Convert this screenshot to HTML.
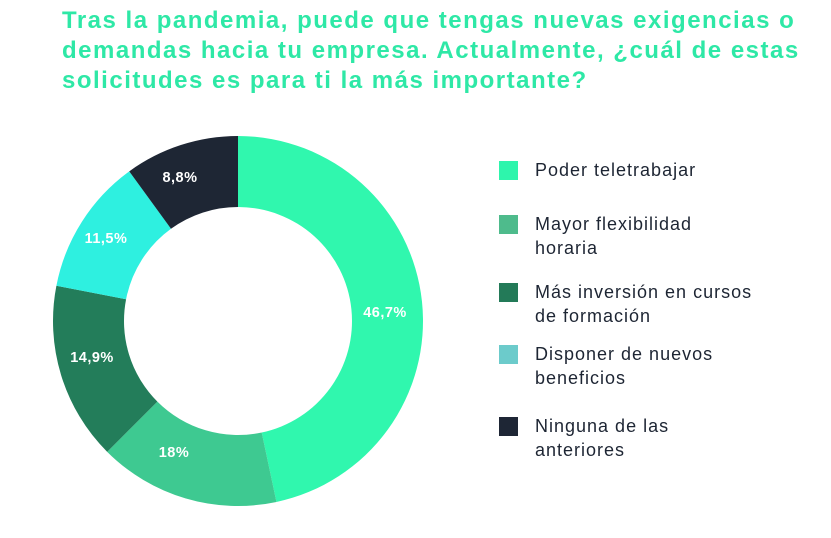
<!DOCTYPE html>
<html><head><meta charset="utf-8"><style>
body{margin:0;width:831px;height:538px;background:#fff;overflow:hidden;font-family:"Liberation Sans",sans-serif;position:relative}
.t{position:absolute;left:62px;top:6px;color:#2ee8a6;font-weight:bold;font-size:24px;line-height:30px;letter-spacing:1.5px}
.lg{position:absolute;left:499px;font-size:18px;line-height:24px;color:#1d2533;letter-spacing:1px}
.lg i{position:absolute;left:0;top:3px;width:19px;height:19px}
.lg span{position:absolute;left:36px;top:0;white-space:nowrap}
</style></head><body>
<div class="t">Tras la pandemia, puede que tengas nuevas exigencias o<br>demandas hacia tu empresa. Actualmente, ¿cuál de estas<br>solicitudes es para ti la más importante?</div>
<svg id="s" width="831" height="538" style="position:absolute;left:0;top:0">
<g id="g"></g>
<g fill="#fff" font-size="14.5" font-weight="bold" text-anchor="middle" letter-spacing="0.5">
<text x="385" y="317">46,7%</text>
<text x="174" y="457">18%</text>
<text x="92" y="362">14,9%</text>
<text x="106" y="243">11,5%</text>
<text x="180" y="182">8,8%</text>
</g></svg>
<div class="lg" style="top:158px"><i style="background:#2ef5ac"></i><span>Poder teletrabajar</span></div>
<div class="lg" style="top:212px"><i style="background:#4ebb8c"></i><span>Mayor flexibilidad<br>horaria</span></div>
<div class="lg" style="top:280px"><i style="background:#237a58"></i><span>Más inversión en cursos<br>de formación</span></div>
<div class="lg" style="top:342px"><i style="background:#6ccbcb"></i><span>Disponer de nuevos<br>beneficios</span></div>
<div class="lg" style="top:414px"><i style="background:#1e2635"></i><span>Ninguna de las<br>anteriores</span></div>
<script>
var d=[[0,168,"#30f7ae"],[168,225,"#3ec991"],[225,281,"#237d5a"],[281,324,"#2ef0e0"],[324,360,"#1e2634"]];
var cx=238,cy=321,R=185,r=114,h="";
function p(rad,ang){return [cx+rad*Math.sin(ang),cy-rad*Math.cos(ang)];}
d.forEach(function(x){var a=x[0]*Math.PI/180,b=x[1]*Math.PI/180,l=(b-a)>Math.PI?1:0;
var A=p(R,a),B=p(R,b),C=p(r,b),D=p(r,a);
h+='<path fill="'+x[2]+'" d="M'+A+' A'+R+' '+R+' 0 '+l+' 1 '+B+' L'+C+' A'+r+' '+r+' 0 '+l+' 0 '+D+'Z"/>';});
document.getElementById("g").innerHTML=h;
</script>
</body></html>
